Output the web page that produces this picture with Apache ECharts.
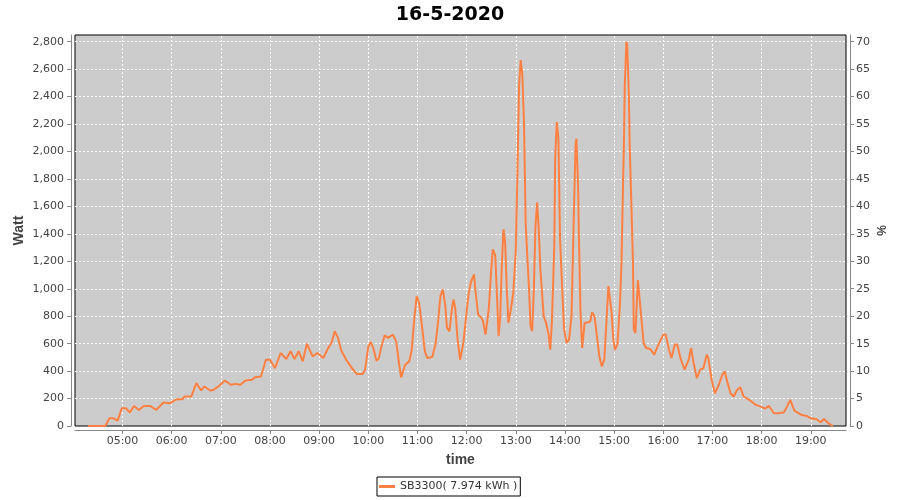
<!DOCTYPE html>
<html>
<head>
<meta charset="utf-8">
<script src="https://cdn.jsdelivr.net/npm/echarts@6/dist/echarts.min.js"></script>
<style>html,body{margin:0;padding:0;background:#fff}#c{width:900px;height:500px}</style>
</head>
<body>
<div id="c"></div>
<script>
const chartTitle = '16-5-2020';
const seriesName = 'SB3300( 7.974 kWh )';
const times = ['04:18','04:39','04:44','04:49','04:54','04:59','05:04','05:09','05:14','05:20','05:26','05:34','05:41','05:50','05:58','06:06','06:13','06:16','06:24','06:30','06:36','06:40','06:47','06:51','06:58','07:05','07:12','07:18','07:24','07:30','07:38','07:42','07:49','07:55','08:00','08:06','08:13','08:20','08:25','08:30','08:35','08:40','08:45','08:52','08:58','09:05','09:11','09:15','09:19','09:23','09:27','09:33','09:40','09:46','09:53','09:56','10:00','10:03','10:06','10:10','10:13','10:16','10:20','10:24','10:30','10:34','10:38','10:40','10:45','10:50','10:53','10:56','10:59','11:02','11:05','11:09','11:12','11:18','11:22','11:25','11:28','11:31','11:34','11:36','11:39','11:42','11:44','11:46','11:49','11:52','11:56','11:59','12:02','12:05','12:09','12:11','12:14','12:18','12:20','12:23','12:25','12:27','12:30','12:32','12:35','12:37','12:39','12:41','12:43','12:45','12:47','12:49','12:51','12:54','12:57','13:00','13:02','13:04','13:06','13:08','13:10','13:12','13:14','13:16','13:18','13:20','13:22','13:24','13:26','13:28','13:30','13:34','13:37','13:40','13:42','13:44','13:47','13:48','13:50','13:52','13:54','13:57','13:59','14:02','14:05','14:08','14:11','14:13','14:14','14:16','14:17','14:19','14:21','14:24','14:28','14:31','14:33','14:36','14:39','14:42','14:45','14:48','14:51','14:53','14:55','14:57','14:59','15:01','15:04','15:07','15:09','15:11','15:12','15:13','15:15','15:16','15:18','15:19','15:21','15:23','15:24','15:26','15:29','15:31','15:33','15:36','15:39','15:44','15:49','15:54','16:00','16:03','16:07','16:10','16:14','16:17','16:21','16:26','16:31','16:34','16:37','16:41','16:45','16:49','16:53','16:55','16:59','17:03','17:07','17:12','17:15','17:18','17:22','17:26','17:30','17:34','17:38','17:45','17:53','17:59','18:04','18:09','18:15','18:20','18:27','18:31','18:35','18:40','18:49','18:55','19:00','19:07','19:12','19:16','19:21','19:25','19:27'];
const watts = [0,0,56,56,39,129,129,98,146,117,146,146,117,171,166,195,195,215,215,312,259,288,259,263,293,332,300,307,300,332,337,356,361,483,483,422,532,488,544,488,544,471,600,507,532,495,568,605,690,642,551,483,422,378,378,410,580,612,568,475,495,580,661,642,666,617,434,354,446,471,556,776,946,898,751,544,495,502,593,751,946,995,873,715,690,851,922,861,629,483,605,776,946,1044,1105,971,812,788,763,666,654,851,1141,1288,1239,946,654,800,1190,1434,1337,995,751,851,971,1288,1849,2483,2666,2556,2215,1483,1239,1020,727,690,995,1459,1629,1434,1141,800,751,666,556,751,1312,1946,2215,2093,1361,946,702,605,629,800,1580,2056,2093,1751,1385,824,568,751,756,763,829,800,654,507,434,483,800,1020,1007,824,629,556,593,873,1190,1800,2068,2483,2800,2776,2410,2044,1629,1190,702,678,1063,1063,800,605,568,561,520,593,666,666,556,495,593,593,495,410,483,568,459,349,410,422,520,495,337,239,288,373,398,324,239,215,263,283,215,190,154,141,127,146,93,93,98,141,190,112,80,73,56,49,27,51,24,5,0];
const hourTicks = ['05:00','06:00','07:00','08:00','09:00','10:00','11:00','12:00','13:00','14:00','15:00','16:00','17:00','18:00','19:00'];
const wattTicks = [0,200,400,600,800,1000,1200,1400,1600,1800,2000,2200,2400,2600,2800];
const pctTicks = [0,5,10,15,20,25,30,35,40,45,50,55,60,65,70];
const xRange = ['04:02','19:43'];
const wattMax = 2849;
const pctMax = 71.22;

const toMin = s => { const p = s.split(':'); return (+p[0]) * 60 + (+p[1]); };
const fmtMin = v => { const h = Math.floor(v / 60), m = Math.round(v % 60); return (h < 10 ? '0' : '') + h + ':' + (m < 10 ? '0' : '') + m; };
const fmtThousands = v => String(v).replace(/\B(?=(\d{3})+(?!\d))/g, ',');
const hourVals = hourTicks.map(toMin);

const FONT = 'DejaVu Sans';
const lineColor = '#ff8040';
const axisGray = '#888888';
const labelStyle = { fontFamily: FONT, fontSize: 11, color: '#444444' };
const nameStyle = { fontFamily: 'Liberation Sans', fontSize: 14, fontWeight: 'bold', color: '#444444' };

const chart = echarts.init(document.getElementById('c'), null, { renderer: 'canvas' });
chart.setOption({
  animation: false,
  backgroundColor: '#ffffff',
  title: {
    text: chartTitle, left: 'center', top: 2, padding: [4, 5],
    textStyle: { fontFamily: FONT, fontSize: 19, fontWeight: 'bold', color: '#000000' }
  },
  legend: {
    data: [seriesName], left: 377, top: 477, selectedMode: false,
    borderColor: '#000000', borderWidth: 1, padding: [4, 3, 4, 2],
    icon: 'rect', itemWidth: 16, itemHeight: 3,
    textStyle: { fontFamily: FONT, fontSize: 11, color: '#333333' }
  },
  grid: {
    left: 75, top: 35, width: 771, height: 391, show: true,
    backgroundColor: '#cccccc', borderColor: '#000000', borderWidth: 1
  },
  xAxis: {
    type: 'value', min: toMin(xRange[0]), max: toMin(xRange[1]), offset: 4,
    name: 'time', nameLocation: 'middle', nameGap: 23, nameMoveOverlap: false, nameTextStyle: nameStyle,
    axisLine: { show: true, onZero: false, lineStyle: { color: axisGray } },
    axisTick: { show: true, length: 4, customValues: hourVals, lineStyle: { color: axisGray } },
    axisLabel: Object.assign({ customValues: hourVals, formatter: fmtMin, margin: 6 }, labelStyle),
    splitLine: { show: false }
  },
  yAxis: [{
    type: 'value', position: 'left', min: 0, max: wattMax, interval: 200, offset: 4,
    name: 'Watt', nameLocation: 'middle', nameGap: 45, nameMoveOverlap: false, nameTextStyle: nameStyle,
    axisLine: { show: true, lineStyle: { color: axisGray } },
    axisTick: { show: true, length: 4, customValues: wattTicks, lineStyle: { color: axisGray } },
    axisLabel: Object.assign({ customValues: wattTicks, formatter: fmtThousands, margin: 7 }, labelStyle),
    splitLine: { show: true, showMinLine: false, lineStyle: { color: '#ffffff', type: [2, 2], width: 1 } }
  }, {
    type: 'value', position: 'right', min: 0, max: pctMax, interval: 5, offset: 4,
    name: '%', nameLocation: 'middle', nameGap: 27, nameMoveOverlap: false, nameTextStyle: Object.assign({}, nameStyle, { fontSize: 12 }),
    axisLine: { show: true, lineStyle: { color: axisGray } },
    axisTick: { show: true, length: 4, customValues: pctTicks, lineStyle: { color: axisGray } },
    axisLabel: Object.assign({ customValues: pctTicks, margin: 6 }, labelStyle),
    splitLine: { show: false }
  }],
  series: [{
    type: 'line', name: seriesName, yAxisIndex: 0, z: 3,
    data: times.map((t, i) => [toMin(t), watts[i]]),
    showSymbol: false, symbol: 'none',
    lineStyle: { color: lineColor, width: 2 },
    itemStyle: { color: lineColor },
    markLine: {
      z: 1, silent: true, symbol: 'none', animation: false,
      label: { show: false },
      lineStyle: { color: '#ffffff', type: [2, 2], width: 1 },
      data: hourVals.map(v => ({ xAxis: v }))
    }
  }]
});
</script>
</body>
</html>
